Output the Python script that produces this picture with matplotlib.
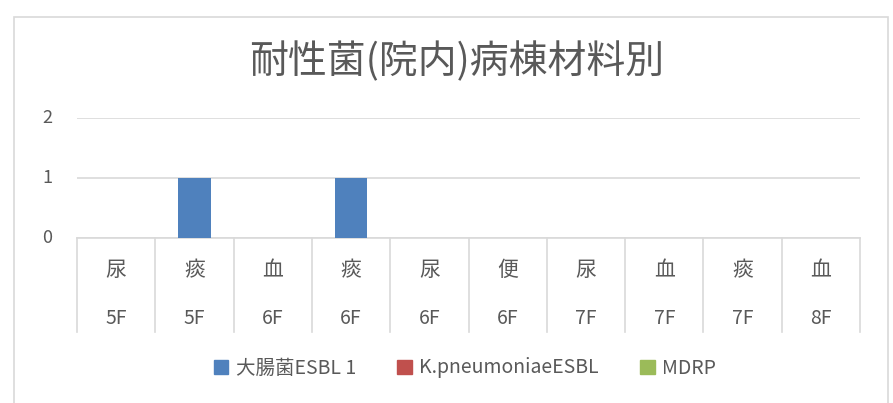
import numpy as np
import matplotlib.pyplot as plt
from matplotlib.patches import Patch, Rectangle
from matplotlib.transforms import blended_transform_factory

plt.rcParams['font.family'] = ['Noto Sans CJK JP', 'DejaVu Sans']

specimens = ['尿', '痰', '血', '痰', '尿', '便', '尿', '血', '痰', '血']
floors = ['5F', '5F', '6F', '6F', '6F', '6F', '7F', '7F', '7F', '8F']
series_names = ['大腸菌ESBL 1', 'K.pneumoniaeESBL', 'MDRP']
ecoli = [0, 1, 0, 1, 0, 0, 0, 0, 0, 0]
kpneu = [0, 0, 0, 0, 0, 0, 0, 0, 0, 0]
mdrp = [0, 0, 0, 0, 0, 0, 0, 0, 0, 0]
yticks = [0, 1, 2]
colors = ['#4F81BD', '#C0504D', '#9BBB59']

grey = '#595959'
line_grey = '#D9D9D9'

fig = plt.figure(figsize=(8.93, 4.03), dpi=100)
fig.patches.append(Rectangle((14 / 893, -0.1), (888 - 14) / 893, 1.1 - 17 / 403,
                             transform=fig.transFigure, fill=False,
                             edgecolor=line_grey, linewidth=1.2))

ax = fig.add_axes([77 / 893, 1 - 238 / 403, (860 - 77) / 893, 120 / 403])
x = np.arange(len(specimens))
for vals, name, c in zip([ecoli, kpneu, mdrp], series_names, colors):
    ax.bar(x, vals, width=0.41, color=c, label=name, zorder=3)

ax.set_xlim(-0.5, len(specimens) - 0.5)
ax.set_ylim(0, 2)
ax.set_yticks(yticks)
ax.set_yticklabels([])
ax.yaxis.grid(True, color=line_grey, linewidth=1.2)
ax.set_axisbelow(True)
for s in ['top', 'right', 'left']:
    ax.spines[s].set_visible(False)
ax.spines['bottom'].set_color(line_grey)
ax.spines['bottom'].set_linewidth(1.2)
ax.tick_params(axis='y', length=0)
ax.set_xticks([])

# y labels placed by hand, well left of the plot area
ytrans = blended_transform_factory(ax.transAxes, ax.transData)
for v in yticks:
    ax.text(-30 / 783, v, str(v), transform=ytrans, ha='center', va='center',
            fontsize=13, color=grey)

trans = blended_transform_factory(ax.transData, ax.transAxes)
for i, (sp, fl) in enumerate(zip(specimens, floors)):
    ax.text(i, -0.267, sp, transform=trans, ha='center', va='center',
            fontsize=15, color=grey)
    ax.text(i, -0.667, fl, transform=trans, ha='center', va='center',
            fontsize=14, color=grey)
for b in np.arange(len(specimens) + 1) - 0.5:
    ax.plot([b, b], [0, -0.783], transform=trans, color=line_grey,
            linewidth=1.2, clip_on=False)

fig.text(457 / 893, 1 - 62 / 403, '耐性菌(院内)病棟材料別', ha='center', va='center',
         fontsize=28, color=grey)

handles = [Patch(color=c) for c in colors]
fig.legend(handles, series_names, loc='center', bbox_to_anchor=(465 / 893, 1 - 368 / 403),
           ncol=3, frameon=False, fontsize=14, labelcolor=grey,
           handlelength=0.75, handleheight=0.75, handletextpad=0.4, columnspacing=2.1)

fig.savefig('out.png', dpi=100)
